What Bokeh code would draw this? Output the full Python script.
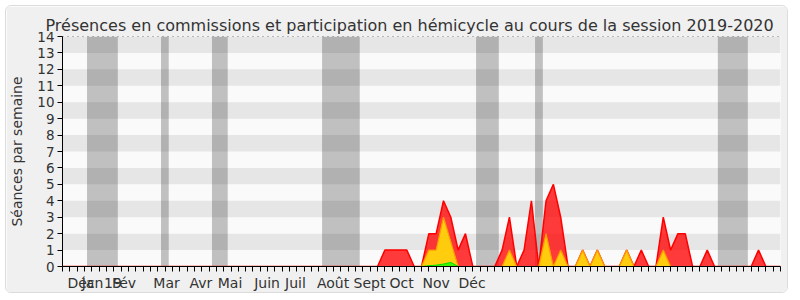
from bokeh.plotting import figure
from bokeh.models import Range1d, FixedTicker, Span
from bokeh.embed import file_html
from bokeh.resources import INLINE
import math

TITLE = "Présences en commissions et participation en hémicycle au cours de la session 2019-2020"
Y_LABEL = "Séances par semaine"

weeks = list(range(99))

# hemicycle participation (red, top layer of the stack)
hemicycle = [
    0, 0, 0, 0, 0, 0, 0, 0, 0, 0,
    0, 0, 0, 0, 0, 0, 0, 0, 0, 0,
    0, 0, 0, 0, 0, 0, 0, 0, 0, 0,
    0, 0, 0, 0, 0, 0, 0, 0, 0, 0,
    0, 0, 0, 0, 1, 1, 1, 1, 0, 0,
    2, 2, 4, 3, 1, 2, 0, 0, 0, 0,
    1, 3, 0, 1, 4, 0, 4, 5, 3, 0,
    0, 1, 0, 1, 0, 0, 0, 1, 0, 1,
    0, 0, 3, 1, 2, 2, 0, 0, 1, 0,
    0, 0, 0, 0, 0, 1, 0, 0, 0,
]
# commission presence (yellow)
commission = [
    0, 0, 0, 0, 0, 0, 0, 0, 0, 0,
    0, 0, 0, 0, 0, 0, 0, 0, 0, 0,
    0, 0, 0, 0, 0, 0, 0, 0, 0, 0,
    0, 0, 0, 0, 0, 0, 0, 0, 0, 0,
    0, 0, 0, 0, 0, 0, 0, 0, 0, 0,
    1, 1, 3, 1.5, 0, 0, 0, 0, 0, 0,
    0, 1, 0, 0, 0, 0, 2, 0, 1, 0,
    0, 1, 0, 1, 0, 0, 0, 1, 0, 0,
    0, 0, 1, 0, 0, 0, 0, 0, 0, 0,
    0, 0, 0, 0, 0, 0, 0, 0, 0,
]
# interventions (green)
interventions = [
    0, 0, 0, 0, 0, 0, 0, 0, 0, 0,
    0, 0, 0, 0, 0, 0, 0, 0, 0, 0,
    0, 0, 0, 0, 0, 0, 0, 0, 0, 0,
    0, 0, 0, 0, 0, 0, 0, 0, 0, 0,
    0, 0, 0, 0, 0, 0, 0, 0, 0, 0,
    0.05, 0.08, 0.15, 0.25, 0, 0, 0, 0, 0, 0,
    0, 0, 0, 0, 0, 0, 0, 0, 0, 0,
    0, 0, 0, 0, 0, 0, 0, 0, 0, 0,
    0, 0, 0, 0, 0, 0, 0, 0, 0, 0,
    0, 0, 0, 0, 0, 0, 0, 0, 0,
]

# holiday periods (in week units)
vac_start = [3.35, 13.45, 20.4, 35.43, 56.45, 64.5, 89.45]
vac_end = [7.55, 14.5, 22.55, 40.57, 59.55, 65.56, 93.54]

# month labels and their positions (week units)
month_labels = ["Déc", "Jan", "19", "Fév", "Mar", "Avr", "Mai", "Juin", "Juil",
                "Août", "Sept", "Oct", "Nov", "Déc"]
month_pos = [2.53, 4.1, 6.89, 8.4, 14.2, 18.9, 22.87, 27.92, 31.8,
             36.93, 41.9, 46.28, 50.99, 55.9]

y_ticks = list(range(0, 15))

def masked(vals):
    out = []
    n = len(vals)
    for i, v in enumerate(vals):
        prev_ = vals[i - 1] if i > 0 else 0
        next_ = vals[i + 1] if i < n - 1 else 0
        out.append(v if (v or prev_ or next_) else math.nan)
    return out

p = figure(width=783, height=288,
           x_range=Range1d(0, 98), y_range=Range1d(0, 14),
           output_backend="svg", toolbar_location=None,
           min_border_left=56, min_border_right=9,
           min_border_top=30, min_border_bottom=28,
           background_fill_color="#fafafa", border_fill_color="#f0f0f0",
           outline_line_color=None,
           styles={"margin-left": "5px", "margin-top": "5px",
                   "border-radius": "6px", "overflow": "hidden",
                   "border": "1px solid #dcdcdc"})

p.title.text = TITLE
p.title.align = "left"
p.title.offset = -17
p.title.text_font = "DejaVu Sans"
p.title.text_font_size = "16px"
p.title.text_font_style = "normal"
p.title.text_color = "#333333"
p.title.standoff = 4

p.grid.visible = False

# holiday bands
p.quad(left=vac_start, right=vac_end, bottom=0, top=14,
       fill_color="#c0c0c0", line_color=None)

# alternating stripes
stripe_b = [t for t in y_ticks[:-1] if t % 2 == 1]
p.quad(left=0, right=98, bottom=stripe_b, top=[b + 1 for b in stripe_b],
       fill_color="#000000", fill_alpha=0.08, line_color=None)

# stacked areas
p.varea(x=weeks, y1=0, y2=hemicycle, fill_color="#ff0000", fill_alpha=0.77)
p.line(weeks, hemicycle, line_color="#ff0000", line_width=1.5)
p.varea(x=weeks, y1=0, y2=commission, fill_color="#ffff00", fill_alpha=0.75)
p.line(weeks, masked(commission), line_color="#ff9a00", line_width=1.2)
p.varea(x=weeks, y1=0, y2=interventions, fill_color="#00ff00", fill_alpha=0.75)
p.line(weeks, masked(interventions), line_color="#00dd00", line_width=1)

p.add_layout(Span(location=14, dimension="width", line_color="#000000",
                  line_width=1, line_dash="1 4"))

# axes
xa = p.xaxis[0]
xa.ticker = FixedTicker(ticks=month_pos, minor_ticks=weeks)
xa.major_label_overrides = {pos: lab for pos, lab in zip(month_pos, month_labels)}
xa.major_tick_out = 0
xa.major_tick_in = 0
xa.minor_tick_out = 5
xa.minor_tick_in = 0
xa.minor_tick_line_color = "#000000"
xa.axis_line_color = "#000000"
xa.major_label_standoff = 3
xa.major_label_text_font = "DejaVu Sans"
xa.major_label_text_font_size = "14px"
xa.major_label_text_color = "#333333"

ya = p.yaxis[0]
ya.ticker = FixedTicker(ticks=y_ticks)
ya.minor_tick_line_color = None
ya.major_tick_out = 5
ya.major_tick_in = 0
ya.major_tick_line_color = "#000000"
ya.axis_line_color = "#000000"
ya.major_label_standoff = 3
ya.major_label_text_font = "DejaVu Sans"
ya.major_label_text_font_size = "13.5px"
ya.major_label_text_color = "#333333"
ya.axis_label = Y_LABEL
ya.axis_label_text_font = "DejaVu Sans"
ya.axis_label_text_font_size = "14px"
ya.axis_label_text_font_style = "normal"
ya.axis_label_text_color = "#333333"
ya.axis_label_standoff = 9

open("out.html", "w").write(file_html(p, INLINE))
